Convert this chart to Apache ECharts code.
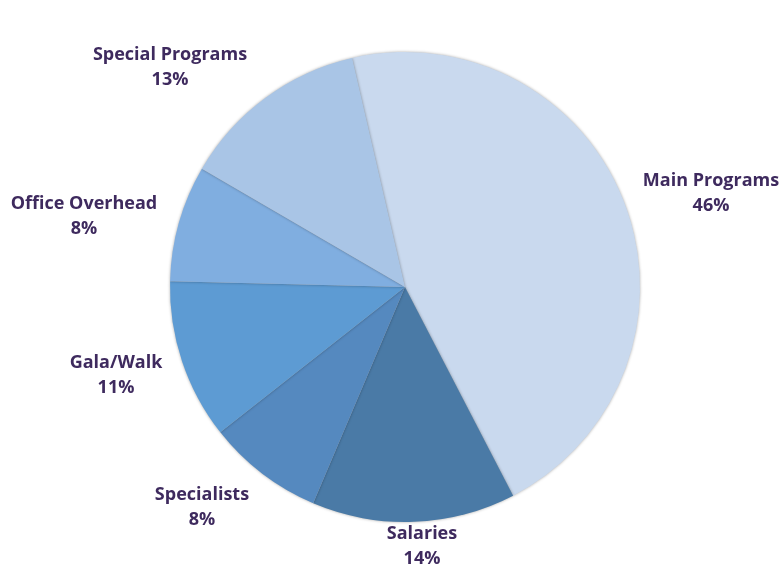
<!DOCTYPE html>
<html lang="en">
<head>
    <meta charset="UTF-8">
    <title>Budget</title>
    <script src="https://cdn.jsdelivr.net/npm/echarts@6/dist/echarts.min.js"></script>
    <style>
        html, body { margin: 0; padding: 0; background: #fff; }
        #chart { width: 783px; height: 567px; }
    </style>
</head>
<body>
    <div id="chart"></div>
    <script>
        // slices, clockwise from the top
        const categories = ['Main Programs', 'Salaries', 'Specialists', 'Gala/Walk', 'Office Overhead', 'Special Programs'];
        const shares = [46, 14, 8, 11, 8, 13];
        const colors = ['#c9d9ee', '#4a7aa6', '#5589bf', '#5d9bd3', '#80aee0', '#a9c5e6'];
        // where each label sits (centre of the text block), set by hand like the original
        const labelAt = [[711, 193], [422, 546], [202, 507], [116, 375], [84, 216], [170, 67]];

        const chart = echarts.init(document.getElementById('chart'));
        chart.setOption({
            animation: false,
            series: {
                type: 'pie',
                center: [405, 287],
                radius: 235,
                startAngle: 103,
                clockwise: true,
                itemStyle: {
                    borderWidth: 0,
                    shadowColor: 'rgba(0,0,0,0.35)',
                    shadowBlur: 3
                },
                label: {
                    position: 'outside',
                    formatter: '{b}\n{d}%',
                    fontFamily: 'Open Sans',
                    fontWeight: 'bold',
                    fontSize: 18,
                    lineHeight: 25,
                    color: '#3e2a5e',
                    overflow: 'none'
                },
                labelLine: { show: false },
                labelLayout: function (params) {
                    const p = labelAt[params.dataIndex];
                    return { x: p[0], y: p[1], align: 'center', verticalAlign: 'middle' };
                },
                data: categories.map((name, i) => ({
                    name: name,
                    value: shares[i],
                    itemStyle: { color: colors[i] }
                }))
            }
        });
    </script>
</body>
</html>
